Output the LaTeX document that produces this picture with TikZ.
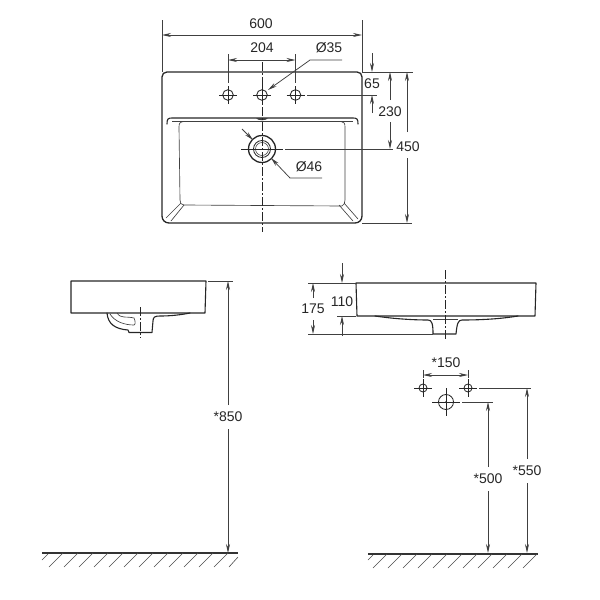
\documentclass[tikz,border=0pt]{standalone}
\usepackage{fontspec}
\setmainfont{Liberation Sans}
\usetikzlibrary{arrows.meta}
\tikzset{
  obj/.style={line width=1.1pt,black!85,line join=round,line cap=round},
  thin obj/.style={line width=0.65pt,black!75},
  dim/.style={line width=0.75pt,black!75},
  arr/.style={dim,-{Stealth[length=9pt,width=4pt]}},
  arrb/.style={dim,{Stealth[length=9pt,width=4pt]}-{Stealth[length=9pt,width=4pt]}},
  lab/.style={inner sep=0.5pt,font=\fontsize{14}{14}\selectfont,text=black!85},
  center line/.style={line width=0.85pt,black!85,dash pattern=on 9pt off 2pt on 2pt off 2pt},
  floor/.style={line width=1.5pt,black!80},
  hatch/.style={line width=0.6pt,black!70}
}
\newcommand{\hatchrow}[4]{%
  \foreach \i in {1,...,#2}{\draw[hatch] ({#1+15*\i},#3) -- ({#1+15*\i-#4},#3+#4);}}
\newcommand{\holemark}[4]{%
  \draw[line width=0.85pt,black!85] (#1,#2) circle (#3);
  \draw[line width=0.7pt,black!85] ({#1-#4},#2) -- ({#1+#4},#2) (#1,{#2-#4}) -- (#1,{#2+#4});}
\begin{document}
\begin{tikzpicture}[x=1pt,y=-1pt]
\useasboundingbox (0,0) rectangle (600,600);
% ---- top view
\draw[obj,line width=1.3pt] (167,72) -- (357,72) .. controls (360,72) and (362,74) .. (362,77) -- (362,216) .. controls (362,220) and (359,223) .. (355,223) -- (169,223) .. controls (165,223) and (162,220) .. (162,216) -- (162,77) .. controls (162,74) and (164,72) .. (167,72) -- cycle;
\draw[obj] (167,124) .. controls (167,119) and (168,118) .. (172,118) -- (353,118) .. controls (357,118) and (358,119) .. (358,124);
\draw[thin obj] (172,121.5) -- (353,121.5);
\draw[thin obj] (184,121.5) .. controls (180,122) and (179,123) .. (179,127) -- (180,200) .. controls (180,203) and (181,205) .. (184,205) -- (342,206) .. controls (344,205) and (345,203) .. (345,200) -- (345,127) .. controls (345,123) and (344,122) .. (341,121.5);
\draw[thin obj] (181,203) -- (166,218) (184,205) -- (171,221) (344,203) -- (358,219) (339,205) -- (353,221);
\fill[black!75] (256,118) -- (268,118) .. controls (267,121) and (257,121) .. (256,118) -- cycle;
% holes
\holemark{228}{95}{5.3}{9}
\holemark{262}{95}{5.3}{9}
\holemark{295.5}{95}{5.3}{9}
% drain
\draw[line width=1.3pt,black!85] (262,149) circle (13.5);
\draw[line width=0.85pt,black!85] (262,149) circle (8.5);
\draw[line width=0.6pt,black!70] (262,149) circle (6.5);
\draw[line width=0.7pt,black!85] (241,149) -- (283,149);
\draw[center line] (262,62) -- (262,232);
% top dims
\draw[dim] (162,20) -- (162,72) (362,20) -- (362,72);
\draw[arrb] (162,35) -- (362,35);
\node[lab] (t600) at (261,24) {600};
\draw[dim] (228,54) -- (228,83) (295.5,54) -- (295.5,83);
\draw[arrb] (228,60) -- (295.5,60);
\node[lab] (t204) at (262,48) {204};
\node[lab] (t35) at (329,48) {Ø35};
\draw[arr] (342,60) -- (310,60) -- (268,90);
\draw[dim] (362,72) -- (413,72) (307,95) -- (377,95) (285,149) -- (393,149) (362,223) -- (412,223);
\draw[arr] (372,53) -- (372,72);
\draw[arr] (372,113) -- (372,95);
\node[lab] (t65) at (372,84) {65};
\draw[arr] (390,100) -- (390,72);
\draw[arr] (390,122) -- (390,149);
\node[lab] (t230) at (390,112) {230};
\draw[arr] (407,132) -- (407,72);
\draw[arr] (407,158) -- (407,223);
\node[lab] (t450) at (408,147) {450};
\draw[arr] (242,129) -- (253,140);
\draw[arr] (322,178) -- (290,178) -- (271,158);
\node[lab] (t46) at (309,167) {Ø46};
% ---- left side view
\draw[obj] (71,281) -- (206,281) -- (205,313) -- (71,313) -- cycle;
\draw[obj] (107,313) .. controls (108,324) and (115,329) .. (128,330) -- (129,332.5) -- (152,332.5) -- (153,321) .. controls (153,317) and (155,316) .. (160,316) .. controls (170,316) and (180,315) .. (190,313);
\draw[thin obj] (117,313) .. controls (121,319) and (126,316) .. (134,318) .. controls (136,322) and (135,325) .. (134,325) .. controls (125,325) and (115,322) .. (110,314);
\draw[center line] (140,307) -- (140,338);
\draw[dim] (208,281) -- (233,281);
\draw[arr] (228,405) -- (228,281);
\draw[arr] (228,429) -- (228,553);
\node[lab] (t850) at (228,417) {*850};
% ---- right side view
\draw[obj] (356,283) -- (536,283) -- (535,316) -- (357,316) -- cycle;
\draw[obj] (375,316) .. controls (395,319) and (415,320) .. (428,320) .. controls (432,320) and (433,324) .. (433,334) -- (456,334) .. controls (457,324) and (458,320) .. (462,320) .. controls (480,320) and (500,319) .. (518,316);
\draw[thin obj] (433,319) -- (458,319);
\draw[center line] (445,270) -- (445,340);
\draw[dim] (308,283) -- (356,283) (337,316) -- (356,316) (308,334) -- (433,334);
\draw[arr] (342,263) -- (342,283);
\draw[arr] (342,336) -- (342,316);
\node[lab] (t110) at (342,302) {110};
\draw[arr] (313,298) -- (313,283);
\draw[arr] (313,320) -- (313,334);
\node[lab] (t175) at (313,309) {175};
% ---- wall holes
\holemark{423}{388}{4}{9}
\holemark{468}{388}{4}{9}
\holemark{446}{402}{7.5}{14}
\fill[black!85] (446,402) circle (0.8);
\draw[dim] (423,370) -- (423,378) (468,370) -- (468,378);
\draw[arrb] (423,375) -- (468,375);
\node[lab] (t150) at (446,363) {*150};
\draw[dim] (479,388) -- (531,388) (462,402) -- (493,402);
\draw[arr] (488,467) -- (488,402);
\draw[arr] (488,491) -- (488,553);
\node[lab] (t500) at (488,479) {*500};
\draw[arr] (527,459) -- (527,388);
\draw[arr] (527,483) -- (527,553);
\node[lab] (t550) at (527,471) {*550};
% ---- floors
\draw[floor] (42,553) -- (238,553);
\draw[hatch] (48,554) -- (42,560);
\hatchrow{48}{12}{553}{14}
\draw[hatch] (238,557) -- (229,567);
\draw[floor] (368,554) -- (538,554);
\draw[hatch] (373,555) -- (368,560);
\hatchrow{372}{11}{554}{14}
\end{tikzpicture}
\end{document}
